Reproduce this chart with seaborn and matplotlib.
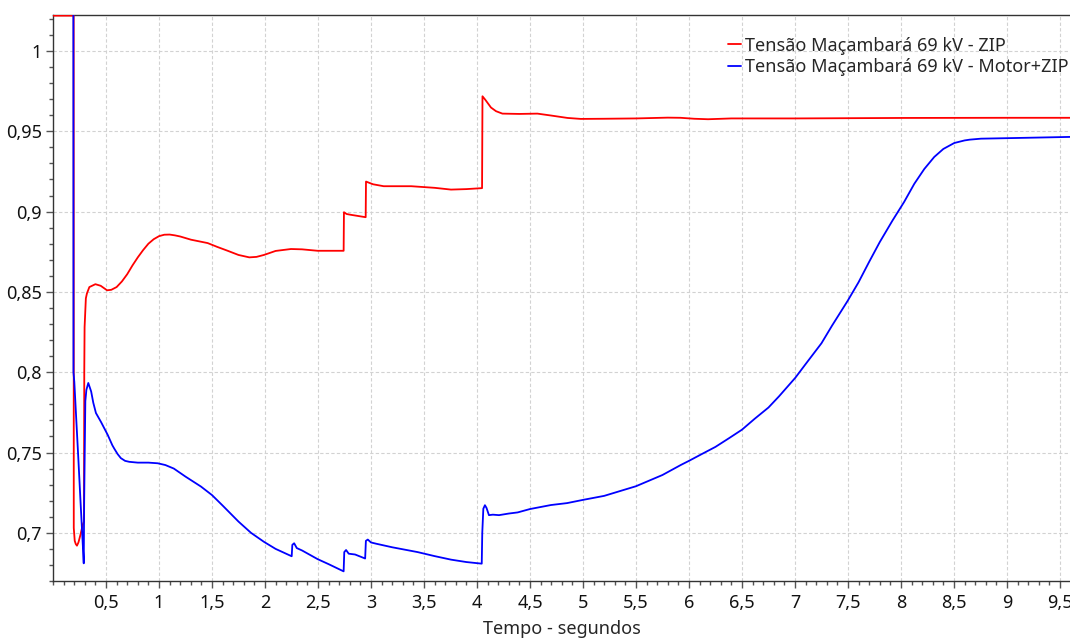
import numpy as np
import pandas as pd
import matplotlib
matplotlib.use("Agg")
import matplotlib.pyplot as plt
from matplotlib.ticker import FuncFormatter, MultipleLocator
import seaborn as sns

# series: ZIP load model (red)
t_zip = [0.0, 0.195, 0.196, 0.205, 0.215, 0.226, 0.24, 0.26, 0.28, 0.292, 0.295, 0.298,
         0.31, 0.32, 0.343, 0.40, 0.45, 0.51, 0.55, 0.60, 0.65, 0.70, 0.75, 0.80, 0.85,
         0.90, 0.95, 1.00, 1.05, 1.10, 1.15, 1.2, 1.302, 1.459, 1.55, 1.648, 1.75,
         1.852, 1.92, 1.99, 2.1, 2.245, 2.35, 2.497, 2.742, 2.745, 2.77, 2.81, 2.95,
         2.953, 2.98, 3.02, 3.12, 3.38, 3.6, 3.755, 3.9, 4.048, 4.052, 4.08, 4.132,
         4.18, 4.24, 4.4, 4.57, 4.7, 4.855, 4.98, 5.2, 5.5, 5.8, 5.92, 6.05, 6.18,
         6.4, 7.0, 8.0, 9.0, 9.6]
v_zip = [1.022, 1.022, 0.703, 0.695, 0.693, 0.692, 0.694, 0.699, 0.705, 0.707, 0.80, 0.828,
         0.846, 0.849, 0.853, 0.8548, 0.8538, 0.851, 0.8513, 0.8530, 0.8565, 0.861, 0.8665, 0.8715, 0.876,
         0.880, 0.8828, 0.8847, 0.8856, 0.8857, 0.8852, 0.8845, 0.8825, 0.8804, 0.878, 0.8756, 0.873,
         0.8715, 0.8718, 0.873, 0.8755, 0.8767, 0.8765, 0.8756, 0.8756, 0.8996, 0.8985, 0.898, 0.8965,
         0.9187, 0.918, 0.917, 0.9158, 0.9158, 0.9148, 0.9137, 0.914, 0.9146, 0.9718, 0.9695, 0.9648,
         0.9625, 0.961, 0.9608, 0.961, 0.9598, 0.9583, 0.9577, 0.9578, 0.958, 0.9585, 0.9584, 0.9578, 0.9575,
         0.958, 0.958, 0.9583, 0.9584, 0.9584]

# series: Motor+ZIP load model (blue)
t_mot = [0.0, 0.192, 0.193, 0.201, 0.22, 0.24, 0.26, 0.28, 0.29, 0.294, 0.305, 0.315,
         0.333, 0.36, 0.38, 0.405, 0.453, 0.516, 0.56, 0.58, 0.61, 0.64, 0.68, 0.72,
         0.80, 0.90, 0.988, 1.06, 1.14, 1.25, 1.396, 1.5, 1.6, 1.75, 1.868, 1.99,
         2.1, 2.252, 2.258, 2.275, 2.30, 2.35, 2.497, 2.6, 2.742, 2.748, 2.765, 2.79,
         2.85, 2.945, 2.952, 2.97, 3.0, 3.05, 3.2, 3.44, 3.6, 3.755, 3.9, 4.045,
         4.05, 4.06, 4.075, 4.09, 4.113, 4.15, 4.208, 4.3, 4.384, 4.5, 4.698, 4.85,
         5.0, 5.2, 5.5, 5.75, 5.925, 6.0, 6.12, 6.25, 6.38, 6.5, 6.62, 6.75,
         6.85, 7.003, 7.1, 7.25, 7.35, 7.497, 7.6, 7.7, 7.8, 7.92, 8.03, 8.126,
         8.22, 8.314, 8.4, 8.503, 8.6, 8.65, 8.755, 9.07, 9.6]
v_mot = [1.03, 1.03, 0.80, 0.794, 0.770, 0.745, 0.719, 0.694, 0.681, 0.72, 0.782, 0.789,
         0.7933, 0.788, 0.781, 0.7746, 0.769, 0.761, 0.7545, 0.7522, 0.749, 0.7465, 0.7448, 0.7442,
         0.7437, 0.7437, 0.7433, 0.7422, 0.740, 0.735, 0.7288, 0.7235, 0.717, 0.707, 0.700, 0.6944,
         0.690, 0.6854, 0.6925, 0.6935, 0.6905, 0.689, 0.6836, 0.6805, 0.676, 0.688, 0.6893, 0.687,
         0.6865, 0.684, 0.695, 0.6958, 0.694, 0.6932, 0.691, 0.688, 0.6855, 0.6833, 0.6818, 0.6808,
         0.700, 0.715, 0.7172, 0.7155, 0.711, 0.7113, 0.711, 0.712, 0.7127, 0.7148, 0.7173, 0.7185,
         0.7205, 0.723, 0.729, 0.736, 0.7423, 0.7448, 0.749, 0.7535, 0.759, 0.7642, 0.771, 0.778,
         0.785, 0.7965, 0.805, 0.818, 0.829, 0.8444, 0.856, 0.8687, 0.881, 0.8944, 0.906, 0.9173,
         0.9265, 0.934, 0.939, 0.9427, 0.9443, 0.9448, 0.9454, 0.9458, 0.9465]

lbl_zip = "Tensão Maçambará 69 kV - ZIP"
lbl_mot = "Tensão Maçambará 69 kV - Motor+ZIP"
x_ticks = [0.5, 1, 1.5, 2, 2.5, 3, 3.5, 4, 4.5, 5, 5.5, 6, 6.5, 7, 7.5, 8, 8.5, 9, 9.5]
y_ticks = [0.7, 0.75, 0.8, 0.85, 0.9, 0.95, 1.0]

df_zip = pd.DataFrame({"t": t_zip, "v": v_zip})
df_mot = pd.DataFrame({"t": t_mot, "v": v_mot})

sns.set_style("white")
plt.rcParams["font.family"] = ["Noto Sans", "DejaVu Sans"]
plt.rcParams["font.size"] = 13

fig = plt.figure(figsize=(10.7, 6.39), dpi=100)
ax = fig.add_axes([53 / 1070, 1 - 581 / 639, 1 - 53 / 1070, 566 / 639])

ax.grid(True, which="major", color="#d2d2d2", linestyle=(0, (3, 2)), linewidth=0.8)
ax.set_axisbelow(True)

sns.lineplot(data=df_zip, x="t", y="v", color="#ff0000", linewidth=1.3,
             sort=False, estimator=None, ax=ax, label=lbl_zip, zorder=3)
sns.lineplot(data=df_mot, x="t", y="v", color="#0000ff", linewidth=1.3,
             sort=False, estimator=None, ax=ax, label=lbl_mot, zorder=4)

ax.set_xlim(0, 9.595)
ax.set_ylim(0.6700, 1.0224)
ax.set_xticks(x_ticks)
ax.set_yticks(y_ticks)
ax.xaxis.set_minor_locator(MultipleLocator(0.1))
ax.yaxis.set_minor_locator(MultipleLocator(0.01))
fmt = FuncFormatter(lambda v, p: f"{v:g}".replace(".", ","))
ax.xaxis.set_major_formatter(fmt)
ax.yaxis.set_major_formatter(fmt)
ax.tick_params(which="major", direction="out", length=5, width=1, color="#555555",
               labelsize=13, labelcolor="#111111", bottom=True, left=True)
ax.tick_params(which="minor", direction="out", length=3, width=1, color="#555555",
               bottom=True, left=True)
ax.tick_params(axis="x", pad=4)
ax.tick_params(axis="y", pad=3)

for s in ["left", "bottom", "top"]:
    ax.spines[s].set_color("#333333")
    ax.spines[s].set_linewidth(1)
ax.spines["right"].set_visible(False)

ax.set_xlabel("Tempo - segundos", fontsize=13, labelpad=6)
ax.set_ylabel("")

h, l = ax.get_legend_handles_labels()
ax.legend(h, l, loc="upper right", bbox_to_anchor=(0.999, 0.962),
          frameon=False, handlelength=0.7, handletextpad=0.25, labelspacing=0.2,
          borderpad=0, borderaxespad=0, fontsize=13)

fig.savefig("out.png", dpi=100)
